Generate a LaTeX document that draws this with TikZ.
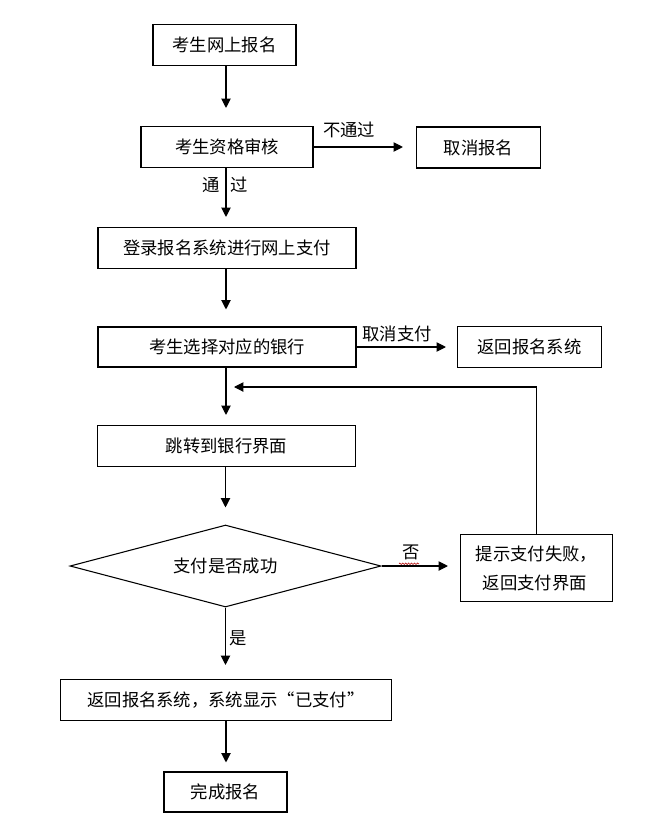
\documentclass[tikz,border=0pt]{standalone}
\usepackage{fontspec}
\newfontfamily\cjk{Noto Sans CJK SC}
\usetikzlibrary{arrows.meta,shapes.geometric,decorations.pathmorphing}
\begin{document}
\begin{tikzpicture}[x=0.75pt,y=-0.75pt,
  box/.style={draw,line width=0.8pt,inner sep=0pt,font=\cjk\fontsize{13}{16}\selectfont},
  lbl/.style={inner sep=0pt,font=\cjk\fontsize{13}{16}\selectfont},
  arr/.style={-{Triangle[length=7pt,width=7pt]},line width=0.8pt},
]
\useasboundingbox[fill=white] (0,0) rectangle (644,833);
\coordinate (spine) at (226,0);

\node[box,minimum width=107.25pt,minimum height=30.75pt] (n1) at (224.5,45) {考生网上报名};
\node[box,minimum width=129pt,minimum height=30.75pt] (n2) at (227,147) {考生资格审核};
\node[box,minimum width=93pt,minimum height=30.75pt] (n3) at (478.5,147.5) {取消报名};
\node[box,minimum width=193.5pt,minimum height=30.75pt] (n4) at (227,248) {登录报名系统进行网上支付};
\node[box,minimum width=193.5pt,minimum height=30pt] (n5) at (227,347) {考生选择对应的银行};
\node[box,minimum width=108pt,minimum height=30.75pt] (n6) at (529.5,347) {返回报名系统};
\node[box,minimum width=193.5pt,minimum height=30.75pt] (n7) at (226.5,446) {跳转到银行界面};
\node[box,shape=diamond,aspect=3.8,minimum width=233.25pt,minimum height=61.5pt] (d) at (225.5,566) {支付是否成功};
\node[box,minimum width=114pt,minimum height=50.25pt,align=left,font=\cjk\fontsize{13}{21.75}\selectfont] (n9) at (536.5,568.3) {提示支付失败，\\\hspace*{0.4em}返回支付界面};
\node[box,minimum width=248.25pt,minimum height=30.75pt] (n10) at (226,700) {返回报名系统，系统显示“已支付”};
\node[box,minimum width=92.25pt,minimum height=30pt] (n11) at (225.5,792) {完成报名};

\node[lbl] (l1) at (349,130) {不通过};
\node[lbl] (l2) at (225,185) {通\hspace{0.65em}过};
\node[lbl] (l3) at (397,334) {取消支付};
\node[lbl] (l4) at (411,552) {否};
\node[lbl] (l5) at (238.5,638.5) {是};
\draw[red!70!black,line width=0.4pt,decorate,decoration={zigzag,amplitude=0.6pt,segment length=2.2pt}] (l4.south west)++(-3,4) -- ++(20,0);

\draw[arr,shorten >=13.5pt] (n1.south -| spine) -- (n2.north -| spine);
\draw[arr,shorten >=9.75pt] (n2.east) -- (n2.east -| n3.west);
\draw[arr,shorten >=7.5pt] (n2.south -| spine) -- (n4.north -| spine);
\draw[arr,shorten >=12.75pt] (n4.south -| spine) -- (n5.north -| spine);
\draw[arr,shorten >=8.25pt] (n5.east) -- (n5.east -| n6.west);
\draw[arr,shorten >=7.5pt] (n5.south -| spine) -- (n7.north -| spine);
\draw[arr,shorten >=12.75pt] (n7.south -| d.north) -- (d.north);
\draw[arr,shorten >=9pt] (d.east) -- (d.east -| n9.west);
\draw[arr,shorten >=10.5pt] (d.south) -- (d.south |- n10.north);
\draw[arr,shorten >=6.75pt] (n10.south -| spine) -- (n11.north -| spine);
\coordinate (fb) at (234,387);
\draw[arr] (n9.north) |- (fb);
\end{tikzpicture}
\end{document}
